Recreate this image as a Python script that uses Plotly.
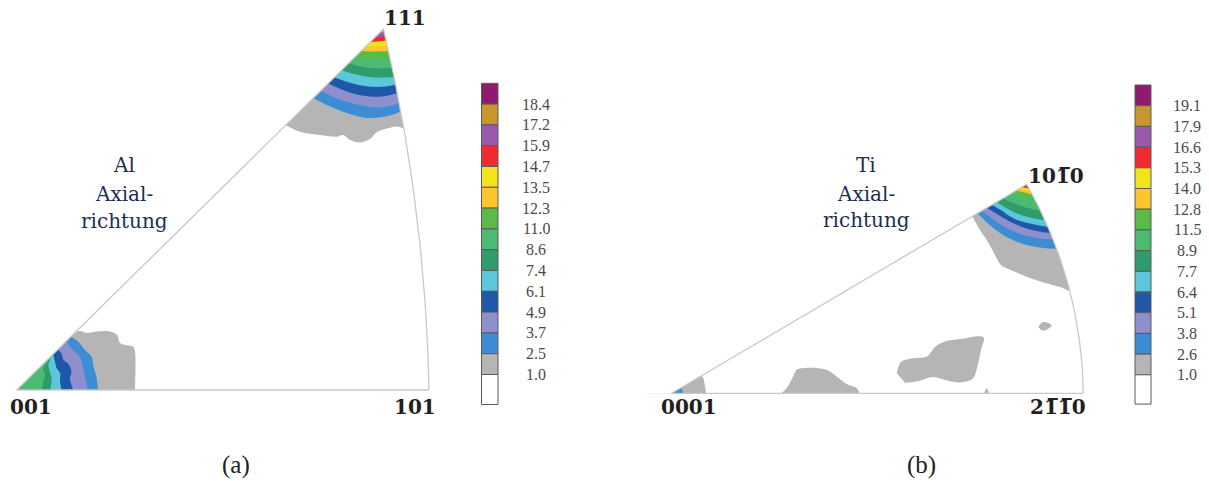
import math
import plotly.graph_objects as go

W, H = 1209, 481

# ---------------- data ----------------
AL_LEVELS = [1.0, 2.5, 3.7, 4.9, 6.1, 7.4, 8.6, 11.0, 12.3, 13.5, 14.7, 15.9, 17.2, 18.4]
TI_LEVELS = [1.0, 2.6, 3.8, 5.1, 6.4, 7.7, 8.9, 11.5, 12.8, 14.0, 15.3, 16.6, 17.9, 19.1]
BAND_COLORS = ["#b5b5b5", "#3c8dd3", "#8d90cc", "#1f58a8", "#5cc6da", "#2f9c6c", "#4cba70",
               "#5cba48", "#fec52c", "#f2e31c", "#ee2b2e", "#9b59ae", "#c9962d", "#8e1b6e"]

# triangle corners (001, 101, 111) and one extra point on the curved edge
AL_CORNERS = [(16.7, 390.0), (429.0, 390.0), (383.5, 29.0)]
AL_ARC_MID = (413.0, 187.0)
AL_CORNER_LABELS = ["001", "101", "111"]

TI_CORNERS = [(671.7, 393.3), (1083.3, 393.3), (1026.7, 184.3)]
TI_ARC_MID = (1070.0, 291.7)
TI_CORNER_LABELS = ["0001", "2" + "1\u0305" + "1\u0305" + "0", "10" + "1\u0305" + "0"]

# iso-density lines (level -> points), Al near 111
AL_111 = {
    1.0: [(285, 125), (300, 131.7), (320, 135), (336.7, 136.7), (343.3, 135), (350, 140),
          (360, 142.5), (370, 139), (377, 132), (388, 128.3), (397, 126.5), (405, 129)],
    2.5: [(311, 97), (330, 106.5), (350, 114), (367, 118), (382, 117), (393, 114.5), (402, 111)],
    3.7: [(318, 89.5), (337, 98.5), (357, 104.5), (377, 107.5), (390, 106), (400, 102.5)],
    4.9: [(325, 82), (343, 90), (362, 95.5), (382, 96.5), (398, 93)],
    6.1: [(331, 76), (349, 82.5), (368, 86.5), (386, 86.5), (396.5, 84.5)],
    7.4: [(338, 69), (356, 74.5), (375, 77.5), (393.5, 77)],
    8.6: [(345, 62), (363, 67), (380, 68.5), (391.5, 68)],
    11.0: [(352, 56), (368, 58.5), (389.5, 58)],
    12.3: [(357, 51), (372, 51.5), (388.5, 51)],
    13.5: [(361, 47), (375, 46.5), (387.5, 45.5)],
    14.7: [(366, 42.5), (377, 41.5), (386.5, 40.5)],
    15.9: [(370.5, 38), (379, 37), (385.5, 36)],
    17.2: [(375.5, 33), (381, 32.5), (384.5, 32)],
}
# Al near 001
AL_001 = {
    1.0: [(75, 331.7), (80, 331), (87, 333), (97, 331.5), (110, 331.5), (117, 335), (120, 343),
          (125, 345), (133, 346.5), (135, 352), (135, 390)],
    2.5: [(71.5, 337), (78, 341.5), (85, 350), (91.5, 356.5), (93.5, 366.5), (96.5, 377), (98, 390)],
    3.7: [(66.7, 342), (73, 350), (80, 357), (83, 367), (85, 377), (88, 390)],
    4.9: [(58.5, 350), (61.5, 353.5), (63.5, 360), (68, 363.5), (71.5, 371.5), (70, 378.5), (73, 390)],
    6.1: [(53.3, 355), (55, 361.7), (56.7, 368.3), (60, 373.3), (60, 381.7), (61.7, 390)],
    7.4: [(50, 360), (48.3, 365), (50, 371.7), (51.7, 380), (50, 390)],
    8.6: [(46.7, 363.3), (43.3, 368.3), (45, 375), (43.3, 381.7), (41.7, 390)],
}
# Ti near 10-10
TI_1010 = {
    1.0: [(971.7, 215), (980, 230), (988, 242), (995, 255), (1001, 265), (1012, 270.5),
          (1026.7, 276.7), (1045, 283), (1060, 287), (1070, 291.5)],
    2.6: [(976.7, 212.5), (987, 222.5), (1000, 233), (1016.7, 241.7), (1035, 246.7), (1056, 249)],
    3.8: [(980.5, 210), (992, 218.5), (1007, 228.3), (1023.3, 235), (1040, 238.5), (1054, 239.5)],
    5.1: [(985, 207), (997, 214), (1010, 221.7), (1026.7, 228.5), (1045, 232.5), (1051.5, 233)],
    6.4: [(990, 204), (1000, 209.5), (1013.3, 218.3), (1030, 223.5), (1048, 227)],
    7.7: [(995, 200.5), (1003.3, 206.3), (1016.7, 213.3), (1031.7, 218), (1046, 220.5)],
    8.9: [(1000, 197.3), (1010, 201.7), (1023.3, 206.7), (1043, 211.5)],
    11.5: [(1009, 192.5), (1023.3, 196.7), (1039, 200)],
    12.8: [(1014, 190), (1026.7, 193), (1037, 195.5)],
    14.0: [(1017, 188.3), (1028.3, 190.7), (1035.5, 192.5)],
    15.3: [(1020, 186.7), (1028.3, 188.3), (1034, 189.5)],
    16.6: [(1022, 185.5), (1027.5, 186.4), (1033, 187.3)],
    17.9: [(1024, 184.8), (1028, 185.4), (1031.5, 186)],
}
# Ti near 0001
TI_0001 = {
    1.0: [(700, 374), (703.3, 378.3), (705, 386.7), (706, 393.3)],
    2.6: [(677, 390), (681, 388), (683.5, 393.3)],
}
# Ti isolated 1.0-level patches
TI_PATCHES = [
    [(778.3, 396), (786.7, 388), (793.3, 376), (797, 369.5), (805, 368), (818, 368.3), (828, 370.5),
     (836, 376), (846.7, 384), (857, 388.5), (860, 396)],
    [(896.7, 373), (901, 362), (913.3, 358.3), (927, 356.5), (935, 347), (945, 341.5), (960, 339),
     (983.5, 337.3), (981, 350), (977, 368), (973, 378.5), (960, 382.5), (947, 380.5), (933.3, 377),
     (916.7, 381.5), (905, 382.7)],
    [(1038.3, 326.7), (1042.5, 322.3), (1047, 322.5), (1051.7, 325.5), (1046, 330), (1041.5, 330.5)],
    [(983.3, 396), (986.7, 388.3), (990, 396)],
]

# ---------------- helpers ----------------
def arc_points(p_top, p_mid, p_bot, n=80):
    (x1, y1), (x2, y2), (x3, y3) = p_top, p_mid, p_bot
    d = 2 * (x1 * (y2 - y3) + x2 * (y3 - y1) + x3 * (y1 - y2))
    ux = ((x1**2 + y1**2) * (y2 - y3) + (x2**2 + y2**2) * (y3 - y1) + (x3**2 + y3**2) * (y1 - y2)) / d
    uy = ((x1**2 + y1**2) * (x3 - x2) + (x2**2 + y2**2) * (x1 - x3) + (x3**2 + y3**2) * (x2 - x1)) / d
    r = math.hypot(x1 - ux, y1 - uy)
    a1 = math.atan2(y1 - uy, x1 - ux)
    a3 = math.atan2(y3 - uy, x3 - ux)
    pts = []
    for i in range(n + 1):
        a = a1 + (a3 - a1) * i / n
        pts.append((ux + r * math.cos(a), uy + r * math.sin(a)))
    pts[0], pts[-1] = p_top, p_bot
    return pts


def extend(p_from, p_to, dist):
    dx, dy = p_to[0] - p_from[0], p_to[1] - p_from[1]
    L = math.hypot(dx, dy) or 1.0
    return (p_to[0] + dx / L * dist, p_to[1] + dy / L * dist)


def top_region(pts, y_top):
    a1, a2 = extend(pts[1], pts[0], 6), extend(pts[1], pts[0], 12)
    b1, b2 = extend(pts[-2], pts[-1], 6), extend(pts[-2], pts[-1], 12)
    return [a2, a1] + list(pts) + [b1, b2, (b2[0], y_top), (a2[0], y_top)]


def corner_region(pts, y_bot, x_left):
    a1, a2 = extend(pts[1], pts[0], 6), extend(pts[1], pts[0], 12)
    b1, b2 = extend(pts[-2], pts[-1], 6), extend(pts[-2], pts[-1], 12)
    return [a2, a1] + list(pts) + [b1, b2, (b2[0], y_bot), (x_left, y_bot), (x_left, a2[1])]


def fill_trace(poly, color, shape="spline"):
    return go.Scatter(x=[p[0] for p in poly], y=[p[1] for p in poly], mode="lines",
                      fill="toself", fillcolor=color,
                      line=dict(width=0, color=color, shape=shape, smoothing=1.0),
                      hoverinfo="skip", showlegend=False)


fig = go.Figure()

def add_bands(levels, contours, builder):
    for lv in sorted(contours):
        idx = levels.index(lv)
        fig.add_trace(fill_trace(builder(contours[lv]), BAND_COLORS[idx]))

# Al bands
add_bands(AL_LEVELS, AL_111, lambda p: top_region(p, 12))
add_bands(AL_LEVELS, AL_001, lambda p: corner_region(p, 404, 6))
# Ti bands
add_bands(TI_LEVELS, TI_1010, lambda p: top_region(p, 165))
add_bands(TI_LEVELS, TI_0001, lambda p: corner_region(p, 406, 650))
for patch in TI_PATCHES:
    fig.add_trace(fill_trace(patch, BAND_COLORS[0]))

# masks outside the triangles + outlines
def add_frame(corners, arc_mid, x_min, x_max, y_min):
    c0, c1, c2 = corners
    arc = arc_points(c2, arc_mid, c1)
    masks = [
        [(x_min, c0[1]), c0, c2, (c2[0] + 4, y_min), (x_min, y_min)],
        arc + [(x_max, c1[1]), (x_max, y_min), (c2[0] - 4, y_min)],
        [(x_min, c0[1]), (x_max, c0[1]), (x_max, c0[1] + 45), (x_min, c0[1] + 45)],
    ]
    for m in masks:
        fig.add_trace(fill_trace(m, "#ffffff", shape="linear"))
    outline = [c1, c0, c2] + arc[1:]
    fig.add_trace(go.Scatter(x=[p[0] for p in outline], y=[p[1] for p in outline], mode="lines",
                             line=dict(color="#c9c9c9", width=1.3), hoverinfo="skip",
                             showlegend=False))

add_frame(AL_CORNERS, AL_ARC_MID, -20, 472, -20)
add_frame(TI_CORNERS, TI_ARC_MID, 600, 1110, 130)

# colour keys
def add_key(levels, x_left, x_right, top, cell_h, white_h, label_x):
    n = len(levels)
    colors = list(reversed(BAND_COLORS)) + ["#ffffff"]
    bases = [top + i * cell_h for i in range(n)] + [top + n * cell_h]
    heights = [cell_h] * n + [white_h]
    fig.add_trace(go.Bar(x=[(x_left + x_right) / 2] * (n + 1), y=heights, base=bases,
                         width=x_right - x_left,
                         marker=dict(color=colors, line=dict(color="#5a5a5a", width=1)),
                         hoverinfo="skip", showlegend=False))
    for i, lv in enumerate(reversed(levels)):
        fig.add_annotation(x=label_x, y=top + (i + 1) * cell_h, text=f"{lv:.1f}",
                           showarrow=False, xanchor="center", yanchor="middle",
                           font=dict(family="Liberation Serif", size=16, color="#4a4a4a"))

add_key(AL_LEVELS, 481.5, 498, 83.3, 20.8, 30.0, 536)
add_key(TI_LEVELS, 1135, 1151, 85.0, 20.7, 29.3, 1187)

# corner labels
def corner_label(x, y, text):
    fig.add_annotation(x=x, y=y, text=f"<b>{text}</b>", showarrow=False, xanchor="center",
                       yanchor="middle",
                       font=dict(family="DejaVu Serif", size=20, color="#231f20"))

corner_label(31, 407, AL_CORNER_LABELS[0])
corner_label(415, 407, AL_CORNER_LABELS[1])
corner_label(405, 18, AL_CORNER_LABELS[2])
corner_label(689, 407, TI_CORNER_LABELS[0])
corner_label(1058, 407, TI_CORNER_LABELS[1])
corner_label(1056, 176, TI_CORNER_LABELS[2])

# material / direction captions
def caption(x, lines, ys):
    for t, y in zip(lines, ys):
        fig.add_annotation(x=x, y=y, text=t, showarrow=False, xanchor="center", yanchor="middle",
                           font=dict(family="DejaVu Serif", size=20, color="#1c2e52"))

caption(124, ["Al", "Axial-", "richtung"], [165, 194, 221])
caption(866, ["Ti", "Axial-", "richtung"], [165, 194, 220])

fig.add_annotation(x=236, y=465, text="(a)", showarrow=False,
                   font=dict(family="Liberation Serif", size=25, color="#222222"))
fig.add_annotation(x=921, y=465, text="(b)", showarrow=False,
                   font=dict(family="Liberation Serif", size=25, color="#222222"))

fig.update_layout(
    width=W, height=H, margin=dict(l=0, r=0, t=0, b=0),
    paper_bgcolor="white", plot_bgcolor="white", showlegend=False,
    barmode="overlay", hovermode=False,
    xaxis=dict(range=[0, W], visible=False, fixedrange=True),
    yaxis=dict(range=[H, 0], visible=False, fixedrange=True),
)

fig.write_html("out.html", config={"displayModeBar": False},
               post_script="document.body.style.margin='0px';document.body.style.overflow='hidden';")
